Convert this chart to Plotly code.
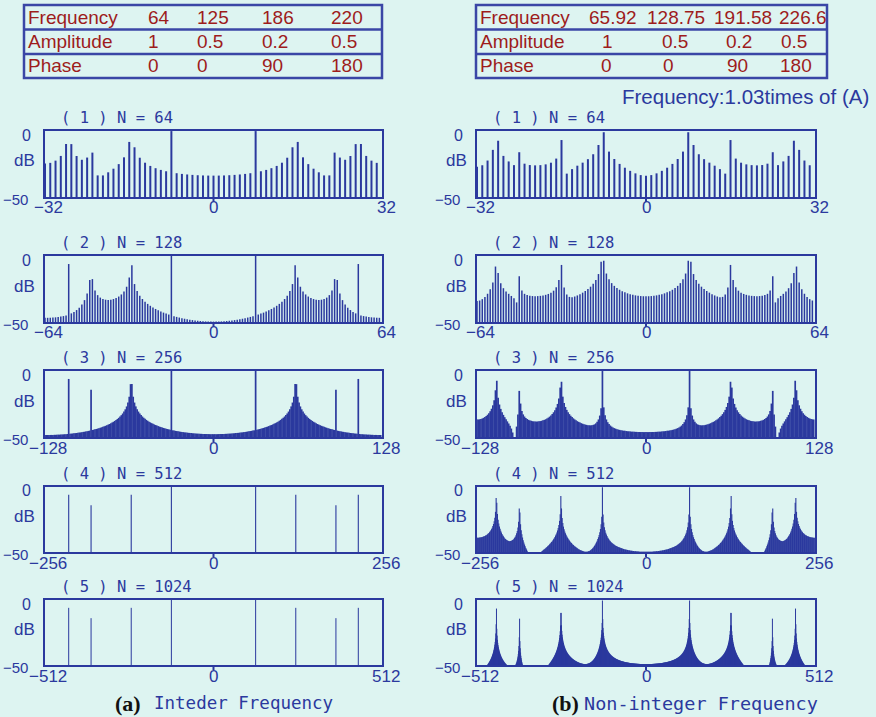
import numpy as np
import plotly.graph_objects as go

# ---- signal parameters (the two tables) ----
FREQ_INT = [64, 125, 186, 220]
FREQ_NONINT = [65.92, 128.75, 191.58, 226.6]
AMPLITUDE = [1, 0.5, 0.2, 0.5]
PHASE_DEG = [0, 0, 90, 180]

FREQ_TEXT_INT = ["64", "125", "186", "220"]
FREQ_TEXT_NONINT = ["65.92", "128.75", "191.58", "226.6"]
AMP_TEXT = ["1", "0.5", "0.2", "0.5"]
PHASE_TEXT = ["0", "0", "90", "180"]
ROW_NAMES = ["Frequency", "Amplitude", "Phase"]

SAMPLE_RATE = 512
N_POINTS = [64, 128, 256, 512, 1024]
DB_FLOOR = -50

# ---- styling ----
W, H = 876, 717
BG = "#DDF4F1"
NAVY = "#2B399E"
TABLE_RED = "#9E1C1C"
TABLE_BLUE = "#3A46A6"
SANS = "Liberation Sans, Arial, sans-serif"
MONO = "DejaVu Sans Mono, monospace"
SERIF = "Liberation Serif, Times New Roman, serif"

FRAME_X = [(45, 382), (477, 815)]
FRAME_Y = [(131, 197), (256, 322), (371, 437), (487, 552), (600, 665)]
BAR_WIDTH = [2.0, 1.5, 1.7, 1.1, 1.0]


def px(x):
    return x / W


def py(y):
    return 1 - y / H


def spectrum_db(freqs, n):
    """Amplitude spectrum (dB) of the summed sinusoids, rectangular window."""
    t = np.arange(n) / SAMPLE_RATE
    sig = np.zeros(n)
    for f, a, p in zip(freqs, AMPLITUDE, PHASE_DEG):
        sig += a * np.sin(2 * np.pi * f * t + np.deg2rad(p))
    mag = np.abs(np.fft.fftshift(np.fft.fft(sig))) / (n / 2)
    db = 20 * np.log10(np.maximum(mag, 1e-12))
    return np.arange(-n // 2, n // 2), np.clip(db, DB_FLOOR, 0)


fig = go.Figure()
layout = {}
shapes = []
annotations = []


def text(s, x, y, size, color, family=SANS, xanchor="center", yanchor="middle",
         xref="paper", yref="paper", **kw):
    annotations.append(dict(
        text=s, x=x, y=y, xref=xref, yref=yref, showarrow=False,
        xanchor=xanchor, yanchor=yanchor,
        font=dict(size=size, color=color, family=family), **kw))


idx = 0
for col, freqs in enumerate([FREQ_INT, FREQ_NONINT]):
    x0, x1 = FRAME_X[col]
    for row, n in enumerate(N_POINTS):
        idx += 1
        top, bot = FRAME_Y[row]
        xa = "xaxis" if idx == 1 else f"xaxis{idx}"
        ya = "yaxis" if idx == 1 else f"yaxis{idx}"
        xr = "x" if idx == 1 else f"x{idx}"
        yr = "y" if idx == 1 else f"y{idx}"

        k, db = spectrum_db(freqs, n)
        xs, ys = [], []
        for kk, v in zip(k, db):
            xs += [kk, kk, None]
            ys += [DB_FLOOR, v, None]
        fig.add_trace(go.Scatter(
            x=xs, y=ys, mode="lines", xaxis=xr, yaxis=yr,
            line=dict(color=NAVY, width=BAR_WIDTH[row]),
            hoverinfo="skip", showlegend=False))

        layout[xa] = dict(domain=[px(x0), px(x1)], range=[-n / 2, n / 2],
                          anchor=yr, showgrid=False, zeroline=False,
                          showticklabels=False, ticks="",
                          showline=True, mirror=True, linecolor=NAVY, linewidth=2)
        layout[ya] = dict(domain=[py(bot), py(top)], range=[DB_FLOOR, 0],
                          anchor=xr, showgrid=False, zeroline=False,
                          showticklabels=False, ticks="",
                          showline=True, mirror=True, linecolor=NAVY, linewidth=2)

        # small tick under the zero bin
        shapes.append(dict(type="line", xref=xr, yref="paper", x0=0, x1=0,
                           y0=py(bot), y1=py(bot + 5),
                           line=dict(color=NAVY, width=2)))

        # x tick labels
        half = n // 2
        text(f"\u2212{half}", px(x0 + 3), py(bot + 11), 17, NAVY)
        text("0", px((x0 + x1) / 2), py(bot + 11), 17, NAVY)
        text(f"{half}", px(x1 + 4), py(bot + 11), 17, NAVY)

        # y labels
        text("0", px(x0 - 19), py(top + 4), 16, NAVY)
        text("dB", px(x0 - 21), py((top + bot) / 2 - 3), 17, NAVY)
        text("\u221250", px(x0 - 15), py(bot + 2), 15, NAVY, xanchor="right")

        # panel title
        text(f"( {row + 1} ) N = {n}", px(x0 + 14), py(top - 13), 15.5, NAVY,
             family=MONO, xanchor="left")

# ---- parameter tables ----
TABLES = [
    dict(box=(24, 382), rows=[FREQ_TEXT_INT, AMP_TEXT, PHASE_TEXT],
         cols=[[146, 195, 260, 329]] * 3),
    dict(box=(476, 827), rows=[FREQ_TEXT_NONINT, AMP_TEXT, PHASE_TEXT],
         cols=[[587, 645, 712, 777], [600, 660, 724, 779], [599, 661, 725, 778]]),
]
TABLE_TOP, TABLE_BOT = 5, 78
ROW_LINES = [29.5, 54]
ROW_CENTERS = [17, 41.5, 65.5]

for tb in TABLES:
    bx0, bx1 = tb["box"]
    shapes.append(dict(type="rect", xref="paper", yref="paper",
                       x0=px(bx0), x1=px(bx1), y0=py(TABLE_BOT), y1=py(TABLE_TOP),
                       line=dict(color=TABLE_BLUE, width=2.5)))
    for yl in ROW_LINES:
        shapes.append(dict(type="line", xref="paper", yref="paper",
                           x0=px(bx0), x1=px(bx1), y0=py(yl), y1=py(yl),
                           line=dict(color=TABLE_BLUE, width=2.5)))
    for r, (name, vals) in enumerate(zip(ROW_NAMES, tb["rows"])):
        yc = ROW_CENTERS[r]
        text(name, px(bx0 + 2), py(yc), 19, TABLE_RED, xanchor="left")
        for v, cx in zip(vals, tb["cols"][r]):
            text(v, px(cx), py(yc), 19, TABLE_RED, xanchor="left")

text("Frequency:1.03times of (A)", px(871), py(97), 20.5, NAVY, xanchor="right")

# ---- column captions ----
text("<b>(a)</b>", px(128), py(703), 22, "#111111", family=SERIF)
text("Inteder Frequency", px(152), py(703), 17.5, NAVY, family=MONO, xanchor="left")
text("<b>(b)</b>", px(565), py(703), 22, "#111111", family=SERIF)
text("Non-integer Frequency", px(582), py(703), 18.5, NAVY, family=MONO, xanchor="left")

fig.update_layout(
    width=W, height=H, autosize=False,
    margin=dict(l=0, r=0, t=0, b=0),
    paper_bgcolor=BG, plot_bgcolor=BG,
    shapes=shapes, annotations=annotations, showlegend=False,
    **layout)

fig.write_html("out.html")
